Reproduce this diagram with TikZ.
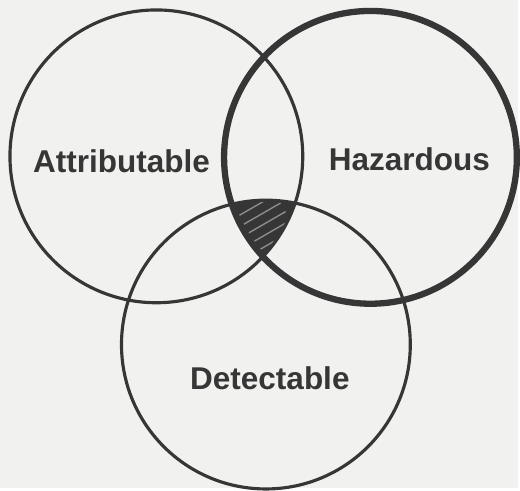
\documentclass[tikz,border=0pt]{standalone}
\usepackage{fontspec}
\setsansfont{Liberation Sans}
\definecolor{PaperTone}{HTML}{F1F1EF}
\definecolor{InkGray}{HTML}{363636}
\definecolor{HatchGray}{HTML}{8C8C8C}

\begin{document}
\begin{tikzpicture}[
    setring/.style={circle, draw=InkGray, line width=1.8pt, minimum size=5.88cm, inner sep=0pt},
    hazring/.style={setring, line width=3.6pt},
    setlabel/.style={text=InkGray, inner sep=0pt,
                     font=\sffamily\bfseries\fontsize{18}{20}\selectfont}
]
    \fill[PaperTone] (0,0) rectangle (10.4,9.8);

    % shaded core: inside all three sets
    \begin{scope}
        \clip (3.14,6.66) circle (2.94);
        \clip (7.44,6.64) circle (2.94);
        \clip (5.34,2.88) circle (2.9);
        \fill[InkGray] (4,4) rectangle (7,7);
        \foreach \k in {-2,...,2}
            \draw[HatchGray, line width=0.8pt, shift={(120:0.2*\k)}] (4.87,5.05) -- ++(30:1.0);
    \end{scope}

    \node[setring] (attr) at (3.14,6.66) {};
    \node[setring, minimum size=5.8cm] (detect) at (5.34,2.88) {};
    \node[hazring] (hazard) at (7.44,6.64) {};

    \node[setlabel] (attrlabel) at (2.44,6.56) {Attributable};
    \node[setlabel] (hazlabel) at (8.22,6.6) {Hazardous};
    \node[setlabel] (detlabel) at (5.42,2.2) {Detectable};
\end{tikzpicture}
\end{document}
